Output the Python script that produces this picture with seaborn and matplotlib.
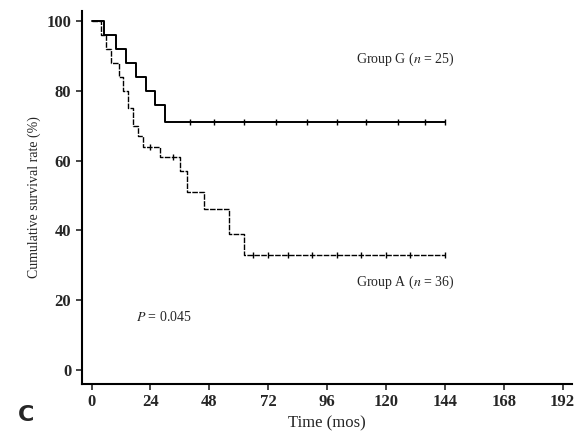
import matplotlib
matplotlib.use("Agg")
import matplotlib.pyplot as plt
import seaborn as sns
import pandas as pd

sns.set_theme(style="ticks")
plt.rcParams['font.family'] = ['Liberation Serif', 'DejaVu Serif']
plt.rcParams['mathtext.fontset'] = 'stix'

# Group G (n = 25)
g_time = [0, 5, 10, 14, 18, 22, 26, 30, 144]
g_surv = [100, 96, 92, 88, 84, 80, 76, 71, 71]
g_cens = [40, 50, 62, 75, 88, 100, 112, 125, 136, 144]

# Group A (n = 36)
a_time = [0, 4, 6, 8, 11, 13, 15, 17, 19, 21, 28, 36, 39, 46, 56, 62, 144]
a_surv = [100, 96, 92, 88, 84, 80, 75, 70, 67, 64, 61, 57, 51, 46, 39, 33, 33]
a_cens = [24, 33, 66, 72, 80, 90, 100, 110, 120, 130, 144]

def step_val(t, times, surv):
    v = surv[0]
    for tt, s in zip(times, surv):
        if tt <= t:
            v = s
    return v

df = pd.concat([
    pd.DataFrame({"time": g_time, "surv": g_surv, "grp": "G"}),
    pd.DataFrame({"time": a_time, "surv": a_surv, "grp": "A"}),
])

fig, ax = plt.subplots(figsize=(5.84, 4.36), dpi=100)
sns.lineplot(data=df[df.grp == "G"], x="time", y="surv", drawstyle="steps-post",
             color="black", lw=1.4, ax=ax)
sns.lineplot(data=df[df.grp == "A"], x="time", y="surv", drawstyle="steps-post",
             color="black", lw=1.0, ls=(0, (4, 1)), ax=ax)
ax.plot(g_cens, [step_val(t, g_time, g_surv) for t in g_cens], "|", color="black", ms=4)
ax.plot(a_cens, [step_val(t, a_time, a_surv) for t in a_cens], "|", color="black", ms=4)

ax.set_xlim(-4, 196)
ax.set_ylim(-4, 103)
ax.set_xticks(range(0, 193, 24))
ax.set_yticks(range(0, 101, 20))
ax.tick_params(direction="out", length=4, width=1.2, labelsize=12)
for t in ax.get_xticklabels() + ax.get_yticklabels():
    t.set_fontweight("bold")
sns.despine(ax=ax)
for s in ["left", "bottom"]:
    ax.spines[s].set_color("black")
    ax.spines[s].set_linewidth(1.5)
ax.set_xlabel("Time (mos)", fontsize=12)
ax.set_ylabel("Cumulative survival rate (%)", fontsize=10)

ax.text(108, 88, "Group G ($n$ = 25)", fontsize=10)
ax.text(108, 24, "Group A ($n$ = 36)", fontsize=10)
ax.text(18, 14, "$P$ = 0.045", fontsize=10)
fig.text(0.03, 0.035, "C", fontsize=16, fontweight="bold", family="DejaVu Sans")

plt.subplots_adjust(left=0.14, right=0.98, top=0.975, bottom=0.12)
plt.savefig("out.png", dpi=100)
